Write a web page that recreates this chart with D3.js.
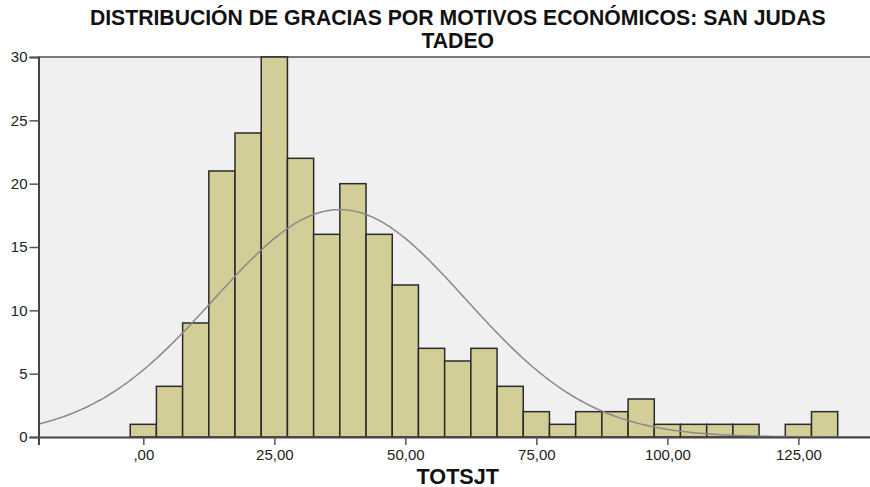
<!DOCTYPE html>
<html>
<head>
<meta charset="utf-8">
<script src="https://cdn.jsdelivr.net/npm/d3@7"></script>
<style>
  body { margin: 0; background: #fff; }
  svg { display: block; font-family: "Liberation Sans", Arial, sans-serif; }
</style>
</head>
<body>
<svg id="chart" width="870" height="487"></svg>
<script>
// Histogram data (bin centers and frequencies)
const binCenters = [0, 5, 10, 15, 20, 25, 30, 35, 40, 45, 50, 55, 60, 65, 70, 75, 80, 85, 90, 95, 100, 105, 110, 115, 120, 125, 130];
const counts = [1, 4, 9, 21, 24, 30, 22, 16, 20, 16, 12, 7, 6, 7, 4, 2, 1, 2, 2, 3, 1, 1, 1, 1, 0, 1, 2];
const binWidth = 5;

// Normal curve parameters
const mean = 37.5;
const stdDev = 24;
const total = d3.sum(counts);

const xTicks = [0, 25, 50, 75, 100, 125];
const yTicks = [0, 5, 10, 15, 20, 25, 30];
const titleLines = ["DISTRIBUCIÓN DE GRACIAS POR MOTIVOS ECONÓMICOS: SAN JUDAS", "TADEO"];
const xLabel = "TOTSJT";

const svg = d3.select("#chart");
const plot = { left: 38.5, top: 57, right: 877, bottom: 437 };

const x = d3.scaleLinear().domain([-20, 140]).range([plot.left, plot.right]);
const y = d3.scaleLinear().domain([0, 30]).range([plot.bottom, plot.top]);

// plot background
svg.append("rect")
  .attr("x", plot.left)
  .attr("y", plot.top)
  .attr("width", plot.right - plot.left)
  .attr("height", plot.bottom - plot.top)
  .attr("fill", "#f0f0f0");

// top frame line
svg.append("line")
  .attr("x1", plot.left).attr("x2", plot.right)
  .attr("y1", plot.top).attr("y2", plot.top)
  .attr("stroke", "#7a7a7a")
  .attr("stroke-width", 2);

// bars
svg.append("g")
  .selectAll("rect")
  .data(binCenters.map((c, i) => ({ c, n: counts[i] })).filter((d) => d.n > 0))
  .enter().append("rect")
  .attr("x", (d) => x(d.c - binWidth / 2))
  .attr("y", (d) => y(d.n))
  .attr("width", (d) => x(d.c + binWidth / 2) - x(d.c - binWidth / 2))
  .attr("height", (d) => y(0) - y(d.n))
  .attr("fill", "#d3ce97")
  .attr("stroke", "#2a2a2a")
  .attr("stroke-width", 1.5);

// normal curve
const normal = (v) => total * binWidth * Math.exp(-0.5 * ((v - mean) / stdDev) ** 2) / (stdDev * Math.sqrt(2 * Math.PI));
const curveXs = d3.range(-20, 140.01, 0.5);
svg.append("path")
  .datum(curveXs)
  .attr("d", d3.line().x((v) => x(v)).y((v) => y(normal(v))))
  .attr("fill", "none")
  .attr("stroke", "#8a8a8a")
  .attr("stroke-width", 1.5);

// x axis
const xAxis = svg.append("g")
  .attr("transform", `translate(0,${plot.bottom})`)
  .call(d3.axisBottom(x).tickValues(xTicks).tickSize(8).tickPadding(4)
    .tickFormat((d) => d3.format(".2f")(d).replace(".", ",").replace(/^0,/, ",")));
xAxis.select(".domain").attr("stroke", "#444").attr("stroke-width", 2);
xAxis.selectAll(".tick line").attr("stroke", "#555").attr("stroke-width", 1.5);
xAxis.selectAll("text").attr("font-size", 15).attr("fill", "#222");

// y axis
const yAxis = svg.append("g")
  .attr("transform", `translate(${plot.left},0)`)
  .call(d3.axisLeft(y).tickValues(yTicks).tickSize(9).tickPadding(2));
yAxis.select(".domain").attr("stroke", "#444").attr("stroke-width", 2);
yAxis.selectAll(".tick line").attr("stroke", "#555").attr("stroke-width", 1.5);
yAxis.selectAll("text").attr("font-size", 15).attr("fill", "#222");

// title (two lines, tight spacing like the original)
const cx = (plot.left + plot.right) / 2;
svg.append("g")
  .selectAll("text")
  .data(titleLines)
  .enter().append("text")
  .attr("x", cx)
  .attr("y", (d, i) => 25 + i * 23)
  .attr("text-anchor", "middle")
  .attr("font-size", 21.2)
  .attr("font-weight", "bold")
  .attr("fill", "#111")
  .text((d) => d);

// x label
svg.append("text")
  .attr("x", cx)
  .attr("y", 483.5)
  .attr("text-anchor", "middle")
  .attr("font-size", 21.6)
  .attr("font-weight", "bold")
  .attr("fill", "#111")
  .text(xLabel);
</script>
</body>
</html>
